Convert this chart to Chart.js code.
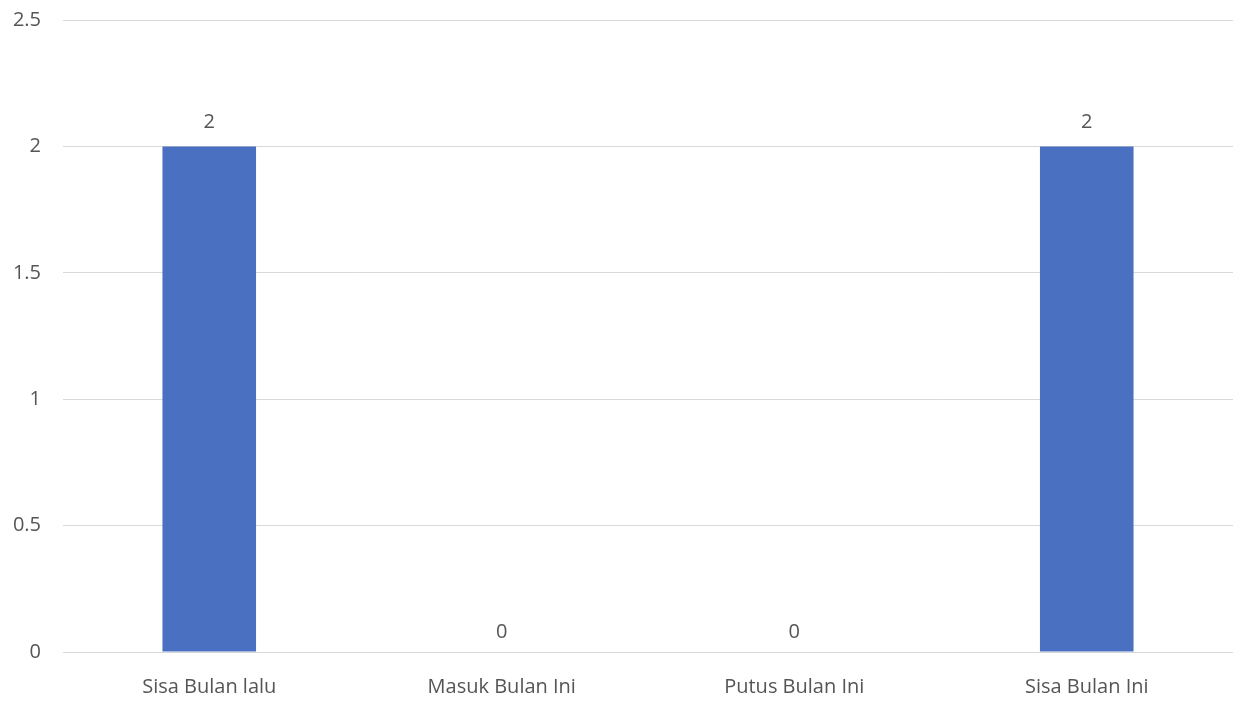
<!DOCTYPE html>
<html>
<head>
<meta charset="utf-8">
<script src="https://cdn.jsdelivr.net/npm/chart.js@4/dist/chart.umd.min.js"></script>
<style>
  html, body { margin: 0; padding: 0; background: #fff; }
  #wrap { width: 1233px; height: 702px; }
</style>
</head>
<body>
<div id="wrap"><canvas id="myChart"></canvas></div>
<script>
const categories = ['Sisa Bulan lalu', 'Masuk Bulan Ini', 'Putus Bulan Ini', 'Sisa Bulan Ini'];
const values = [2, 0, 0, 2];
const yTicks = [0, 0.5, 1, 1.5, 2, 2.5];

const textColor = '#555555';
const fontFamily = '"Open Sans", "Noto Sans", sans-serif';

// simple value labels on top of bars
const barLabels = {
  id: 'barLabels',
  afterDatasetsDraw(chart) {
    const ctx = chart.ctx;
    const meta = chart.getDatasetMeta(0);
    ctx.save();
    ctx.fillStyle = textColor;
    ctx.font = '20px ' + fontFamily;
    ctx.textAlign = 'center';
    ctx.textBaseline = 'alphabetic';
    meta.data.forEach((bar, i) => {
      ctx.fillText(String(values[i]), bar.x, bar.y - (values[i] > 0 ? 18 : 14));
    });
    ctx.restore();
  }
};

const ctx = document.getElementById('myChart');

new Chart(ctx, {
  type: 'bar',
  data: {
    labels: categories,
    datasets: [{
      data: values,
      backgroundColor: '#4a70c2',
      categoryPercentage: 1,
      barPercentage: 0.32,
    }]
  },
  options: {
    responsive: true,
    maintainAspectRatio: false,
    animation: false,
    layout: { padding: { top: 20, right: 0, bottom: 0, left: 0 } },
    plugins: {
      legend: { display: false },
      tooltip: { enabled: false },
    },
    scales: {
      x: {
        grid: { display: false },
        border: { display: false },
        ticks: {
          color: textColor,
          font: { family: fontFamily, size: 20 },
          padding: 15,
          maxRotation: 0,
        },
        afterFit: (scale) => { scale.height = 50; },
      },
      y: {
        min: 0,
        max: 2.5,
        afterBuildTicks: (scale) => { scale.ticks = yTicks.map(v => ({value: v})); },
        grid: { color: '#d9d9d9', drawTicks: false, lineWidth: 1 },
        border: { display: false },
        ticks: {
          color: textColor,
          font: { family: fontFamily, size: 20 },
          padding: 22,
          callback: (v) => String(v),
        },
        afterFit: (scale) => { scale.width = 63; scale.paddingTop = 0; scale.paddingBottom = 0; },
      }
    }
  },
  plugins: [barLabels],
});
</script>
</body>
</html>
